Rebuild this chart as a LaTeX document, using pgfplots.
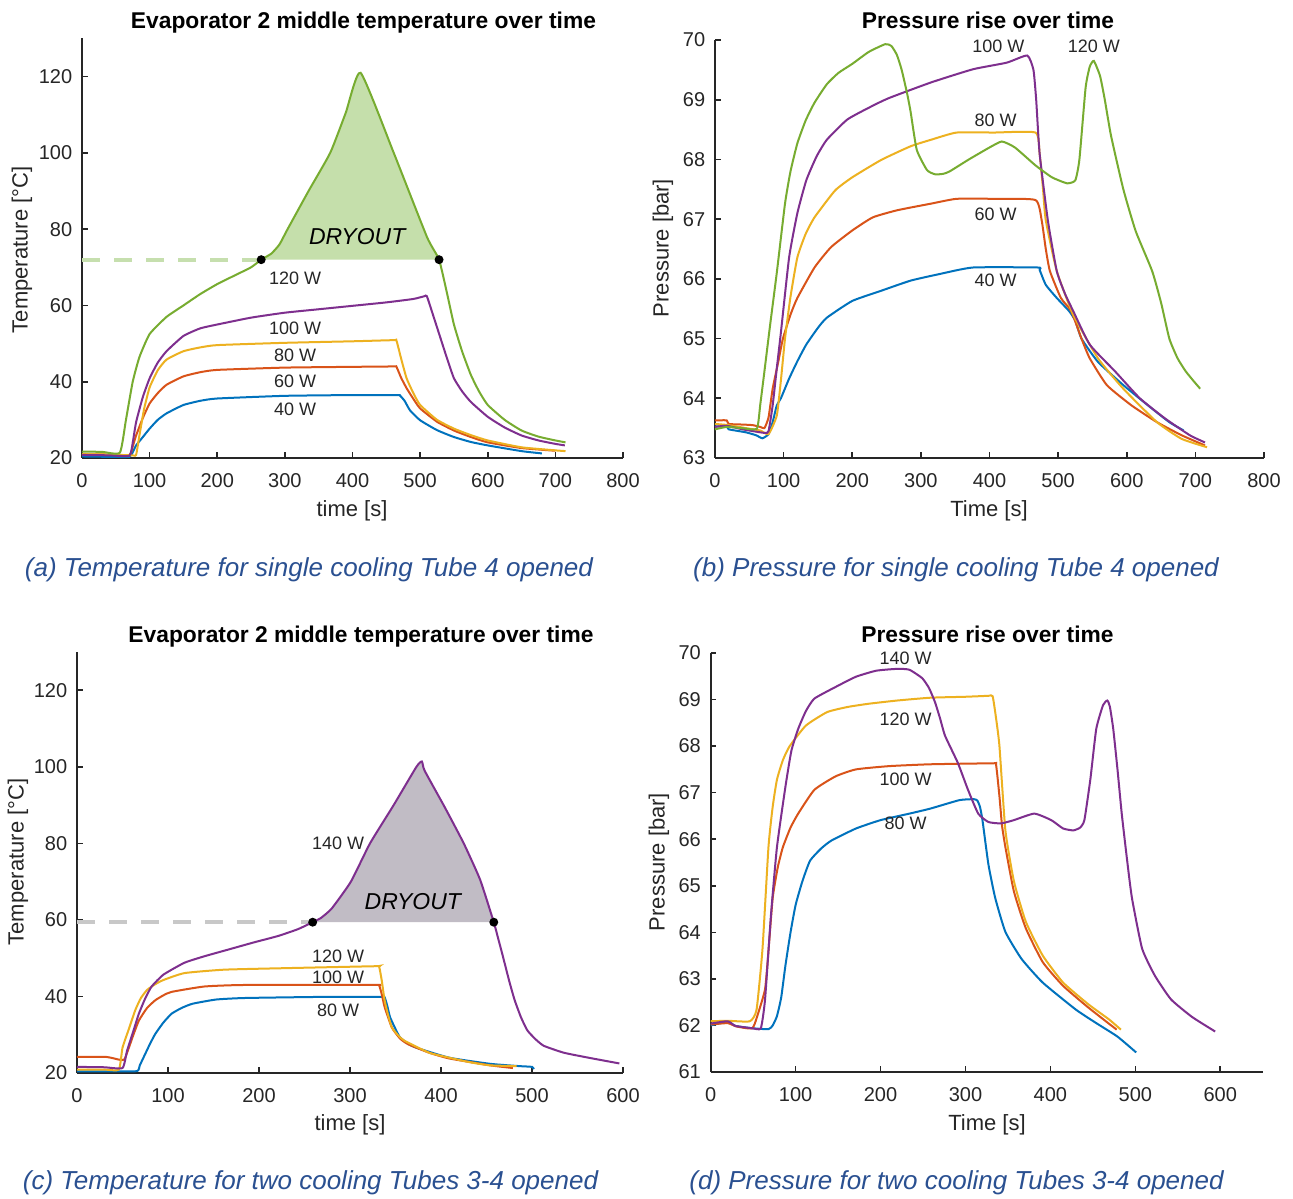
\documentclass[border=0pt]{standalone}
\usepackage{pgfplots}
\pgfplotsset{compat=1.18}
\usepackage{fontspec}
\setmainfont{Liberation Sans}
\definecolor{mblue}{HTML}{0072BD}
\definecolor{mred}{HTML}{D95319}
\definecolor{myellow}{HTML}{EDB120}
\definecolor{mpurple}{HTML}{7E2F8E}
\definecolor{mgreen}{HTML}{77AC30}
\definecolor{gfill}{HTML}{C5DFAB}
\definecolor{pfill}{HTML}{C1BCC5}
\definecolor{gdash}{HTML}{C6DFAE}
\definecolor{pdash}{HTML}{C8C8C8}
\definecolor{axcol}{HTML}{262626}
\definecolor{capcol}{HTML}{2A5091}
\pgfplotsset{
  mstyle/.style={
    scale only axis, anchor=south west, clip=false,
    axis x line*=bottom, axis y line*=left,
    axis line style={-, draw=axcol, line width=0.8pt},
    tick align=inside, major tick length=2.8pt,
    tick style={draw=axcol, line width=0.8pt},
    ticklabel style={font=\fontsize{10}{12}\selectfont, text=axcol},
    xticklabel style={yshift=-4pt},
    yticklabel style={xshift=-1.4pt},
    /pgf/number format/assume math mode=true,
    every axis plot/.append style={line width=1pt, smooth, tension=0.3},
  },
}
\tikzset{
  wlab/.style={font=\fontsize{9}{10}\selectfont, text=axcol},
  dry/.style={font=\fontsize{11.5}{13}\selectfont\itshape, text=black},
}
\newcommand{\ttl}[1]{\fontsize{11.4}{13}\selectfont\bfseries #1}
\begin{document}
\begin{tikzpicture}
\useasboundingbox (0,0) rectangle (646.5pt,599pt);
\fill[white] (0,0) rectangle (646.5pt,599pt);

% ---------------- (a) ----------------
\begin{axis}[mstyle, at={(41pt,370pt)}, width=270.5pt, height=209.75pt,
  xmin=0, xmax=800, ymin=20, ymax=130,
  xtick={0,100,...,800}, ytick={20,40,...,120}]
\addplot[fill=gfill, draw=none] coordinates {(265,72)(280,73.6)(292,76)(304,80)(335,90)(367,100)(390,110.5)(412,121)(461,100)(510,78)(528,72)};
\addplot[gdash, line width=2pt, dash pattern=on 9pt off 7pt, sharp plot] coordinates {(0,72)(265,72)};
\addplot[mblue] coordinates {(0,20.4)(40,20.3)(70,20.3)(75,21.5)(80,23.3)(90,25.5)(100,27.7)(112,30)(125,31.7)(150,33.9)(175,35)(200,35.6)(300,36.3)(400,36.5)(466,36.5)(470,36.4)(477,35)(485,32.5)(500,29.9)(525,27.3)(550,25.5)(575,24.2)(600,23.3)(650,21.8)(680,21.2)};
\addplot[mred] coordinates {(0,21)(40,20.9)(70,20.8)(75,23)(80,25.9)(90,30.5)(100,34.3)(112,37)(125,39.2)(150,41.4)(175,42.5)(200,43.1)(300,43.7)(400,43.9)(461,44)(465,43.9)(472,41)(480,38.3)(490,35.5)(500,33)(525,29.5)(550,27.2)(575,25.5)(600,24.1)(650,22.6)(700,21.9)};
\addplot[myellow] coordinates {(0,21)(40,20.9)(75,20.7)(80,20.8)(85,26)(92,33)(100,38.5)(112,43)(125,45.8)(150,48)(175,49)(200,49.6)(300,50.2)(400,50.6)(461,50.9)(465,50.8)(472,46)(480,40.9)(490,37)(500,33.9)(525,30)(550,27.7)(575,26)(600,24.6)(650,22.8)(700,22)(715,21.8)};
\addplot[mpurple] coordinates {(0,20.8)(40,20.7)(70,20.6)(75,24)(80,29.4)(90,36)(100,40.9)(112,45)(125,48)(150,52)(175,54)(200,55)(250,56.8)(300,58.1)(350,59)(400,59.9)(450,60.8)(490,61.7)(506,62.4)(510,62.4)(520,57)(530,51.5)(540,46)(550,40.9)(562,37.5)(575,34.7)(600,30.8)(625,28)(650,25.9)(675,24.6)(700,23.7)(714,23.3)};
\addplot[mgreen] coordinates {(0,21.7)(30,21.6)(56,21.4)(65,30)(75,40)(85,46.5)(100,52.5)(125,57)(150,60)(175,63)(200,65.6)(225,67.8)(250,70)(265,72)(280,73.6)(292,76)(304,80)(335,90)(367,100)(390,110.5)(412,121)(461,100)(510,78)(528,72)(540,63)(550,55)(562,48)(575,41.8)(587,37.5)(600,33.9)(625,30)(650,27.2)(675,25.6)(700,24.6)(715,24.1)};
\addplot[only marks, mark=*, mark size=1.7pt, black] coordinates {(265,72)(528,72)};
\node[wlab] at (axis cs:315,67) {120 W};
\node[wlab] at (axis cs:315,54.1) {100 W};
\node[wlab] at (axis cs:315,47) {80 W};
\node[wlab] at (axis cs:315,40) {60 W};
\node[wlab] at (axis cs:315,32.7) {40 W};
\node[dry] at (axis cs:407,78.1) {DRYOUT};
\end{axis}

% ---------------- (b) ----------------
\begin{axis}[mstyle, at={(357.5pt,370pt)}, width=274.5pt, height=209pt,
  xmin=0, xmax=800, ymin=63, ymax=70,
  xtick={0,100,...,800}, ytick={63,64,...,70}]
\addplot[mblue] coordinates {(0,63.53)(17,63.53)(20,63.48)(45,63.43)(60,63.38)(69,63.33)(78,63.4)(84,63.6)(90,63.88)(96,64.0)(108,64.33)(120,64.62)(133,64.9)(150,65.18)(163,65.35)(200,65.63)(242,65.8)(285,65.97)(327,66.08)(376,66.19)(470,66.19)(473,66.15)(482,65.9)(498,65.68)(516,65.46)(525,65.3)(534,65.0)(558,64.61)(595,64.22)(631,63.88)(662,63.6)(683,63.46)};
\addplot[mred] coordinates {(0,63.63)(17,63.63)(20,63.57)(40,63.56)(55,63.55)(66,63.52)(72,63.5)(78,63.68)(84,64.16)(92,64.6)(99,65.0)(110,65.4)(120,65.68)(145,66.19)(169,66.53)(200,66.81)(230,67.03)(266,67.15)(315,67.26)(352,67.34)(406,67.34)(467,67.32)(476,66.98)(482,66.5)(488,66.13)(504,65.68)(519,65.46)(534,65.0)(546,64.67)(571,64.22)(607,63.88)(644,63.6)(680,63.38)(714,63.21)};
\addplot[myellow] coordinates {(0,63.57)(20,63.55)(45,63.5)(66,63.46)(78,63.4)(90,63.71)(96,64.3)(102,65.0)(110,65.7)(120,66.36)(132,66.75)(145,67.03)(175,67.48)(200,67.7)(242,67.99)(285,68.22)(315,68.33)(352,68.45)(406,68.45)(467,68.45)(473,68.1)(478,67.5)(482,66.98)(498,66.13)(522,65.4)(558,64.67)(595,64.16)(644,63.6)(680,63.32)(717,63.18)};
\addplot[mpurple] coordinates {(0,63.52)(17,63.54)(40,63.48)(72,63.42)(78,63.45)(84,63.88)(90,64.5)(96,65.1)(108,66.36)(120,67.1)(133,67.65)(148,68.05)(163,68.33)(193,68.67)(230,68.9)(254,69.03)(315,69.29)(376,69.51)(425,69.62)(455,69.74)(464,69.5)(468,69.0)(473,68.1)(485,66.98)(498,66.13)(510,65.75)(522,65.46)(546,64.9)(583,64.45)(619,64.0)(656,63.66)(692,63.38)(714,63.26)};
\addplot[mgreen] coordinates {(0,63.48)(17,63.52)(40,63.5)(61,63.49)(66,63.9)(72,64.45)(80,65.2)(90,66.1)(102,67.26)(110,67.8)(120,68.27)(132,68.65)(145,68.95)(163,69.26)(180,69.45)(200,69.6)(224,69.8)(248,69.93)(257,69.9)(265,69.75)(272,69.5)(280,69.1)(285,68.8)(294,68.16)(309,67.82)(321,67.75)(333,67.76)(342,67.8)(370,68.0)(400,68.2)(418,68.3)(437,68.2)(467,67.9)(491,67.7)(513,67.6)(525,67.65)(531,68.0)(540,69.2)(546,69.55)(552,69.65)(561,69.4)(568,69.0)(577,68.4)(595,67.5)(613,66.8)(637,66.13)(650,65.6)(662,65.0)(674,64.67)(686,64.45)(698,64.28)(707,64.16)};
\node[wlab] at (axis cs:413,69.9) {100 W};
\node[wlab] at (axis cs:552,69.9) {120 W};
\node[wlab] at (axis cs:409,68.65) {80 W};
\node[wlab] at (axis cs:409,67.08) {60 W};
\node[wlab] at (axis cs:409,65.98) {40 W};
\end{axis}

% ---------------- (c) ----------------
\begin{axis}[mstyle, at={(38.5pt,62.5pt)}, width=273pt, height=210.5pt,
  xmin=0, xmax=600, ymin=20, ymax=130,
  xtick={0,100,...,600}, ytick={20,40,...,120}]
\addplot[fill=pfill, draw=none] coordinates {(259,59.4)(268,60.5)(280,63)(301,70)(322,80)(348,90)(373,100)(379,101.4)(382,99)(404,89.5)(425,80)(443,70.5)(458,59.4)};
\addplot[pdash, line width=2pt, dash pattern=on 9pt off 7pt, sharp plot] coordinates {(0,59.4)(259,59.4)};
\addplot[mblue] coordinates {(0,20.4)(40,20.4)(66,20.5)(69,22)(73,24)(80,27.5)(86,30.2)(95,33.2)(104,35.5)(115,37)(127,38.1)(153,39.2)(185,39.6)(275,39.9)(334,39.9)(338,39.8)(341,37.5)(344,34.6)(350,31.5)(355,29.3)(364,27.6)(373,26.6)(409,24)(454,22.4)(486,21.8)(500,21.6)(502,21)};
\addplot[mred] coordinates {(0,24.2)(32,24.2)(46,23.5)(52,23.5)(57,26.6)(62,30)(68,33.7)(77,37)(86,39)(95,40.3)(104,41.2)(140,42.6)(185,43)(328,43)(332,42.9)(335,40.5)(338,37.3)(346,31.9)(355,29)(364,27.5)(387,25.3)(409,23.8)(454,22)(479,21.3)};
\addplot[myellow] coordinates {(0,20.9)(30,20.9)(46,20.9)(50,26.6)(57,31.5)(64,36.4)(70,39.5)(77,41.7)(86,43.2)(95,44.3)(118,46.1)(162,47)(230,47.4)(328,47.9)(332,47.8)(335,44)(338,39)(342,35)(346,31.9)(353,29.8)(360,28.4)(387,25.3)(409,24)(432,22.8)(454,22)(483,21.8)};
\addplot[mpurple] coordinates {(0,21.6)(30,21.5)(50,21.3)(55,25.8)(62,31)(68,35.5)(75,39.5)(82,42.6)(95,45.7)(118,48.8)(140,50.5)(167,52.3)(194,54.1)(221,55.8)(243,57.6)(259,59.4)(268,60.5)(280,63)(301,70)(322,80)(348,90)(373,100)(379,101.4)(382,99)(404,89.5)(425,80)(443,70.5)(458,59.4)(463,55)(468,50.5)(475,44)(481,39)(488,34.5)(495,31.1)(504,28.8)(513,27.1)(535,25.3)(562,24)(596,22.5)};
\addplot[only marks, mark=*, mark size=1.7pt, black] coordinates {(259,59.4)(458,59.4)};
\node[wlab] at (axis cs:287,79.9) {140 W};
\node[dry] at (axis cs:369,64.7) {DRYOUT};
\node[wlab] at (axis cs:287,50.5) {120 W};
\node[wlab] at (axis cs:287,45) {100 W};
\node[wlab] at (axis cs:287,36.4) {80 W};
\end{axis}

% ---------------- (d) ----------------
\begin{axis}[mstyle, at={(355.35pt,63pt)}, width=276pt, height=209.5pt,
  xmin=0, xmax=650, ymin=61, ymax=70,
  xtick={0,100,...,600}, ytick={61,62,...,70}]
\addplot[mblue] coordinates {(0,62.0)(20,62.08)(29,61.99)(49,61.94)(68,61.92)(73,62.0)(78,62.2)(83,62.6)(88,63.29)(94,64.0)(100,64.59)(108,65.1)(117,65.54)(130,65.8)(142,65.97)(171,66.23)(200,66.41)(234,66.55)(259,66.66)(293,66.84)(310,66.86)(314,66.83)(317,66.7)(320,66.41)(327,65.46)(335,64.74)(347,64.01)(366,63.43)(391,62.92)(430,62.34)(454,62.05)(479,61.76)(501,61.42)};
\addplot[mred] coordinates {(0,62.02)(20,62.05)(30,61.98)(49,61.94)(56,62.27)(64,62.78)(68,63.6)(73,64.74)(79,65.4)(85,65.83)(94,66.25)(103,66.55)(122,67.06)(147,67.35)(171,67.5)(210,67.57)(259,67.61)(332,67.63)(336,67.6)(340,66.92)(343,66.3)(347,65.83)(357,64.88)(371,64.09)(391,63.36)(415,62.85)(445,62.38)(478,61.91)};
\addplot[myellow] coordinates {(0,62.09)(20,62.1)(46,62.09)(54,62.34)(61,63.65)(68,65.83)(73,66.7)(78,67.28)(85,67.7)(93,68.0)(112,68.44)(137,68.73)(161,68.84)(186,68.91)(220,68.98)(259,69.04)(300,69.06)(327,69.08)(332,69.07)(336,68.6)(340,68.0)(347,66.19)(357,65.1)(371,64.23)(391,63.5)(415,62.92)(445,62.45)(469,62.13)(483,61.91)};
\addplot[mpurple] coordinates {(0,62.04)(20,62.09)(29,61.99)(49,61.94)(59,61.94)(64,62.56)(71,64.38)(78,65.83)(88,67.13)(95,67.9)(103,68.37)(112,68.75)(122,69.02)(147,69.27)(171,69.49)(195,69.62)(220,69.66)(234,69.64)(249,69.46)(257,69.25)(264,68.95)(270,68.6)(276,68.22)(291,67.64)(303,67.06)(315,66.55)(327,66.37)(342,66.34)(357,66.41)(381,66.55)(401,66.41)(415,66.23)(427,66.19)(435,66.25)(440,66.41)(447,67.28)(454,68.37)(462,68.88)(467,68.98)(470,68.85)(474,68.37)(479,67.5)(484,66.55)(490,65.6)(496,64.74)(508,63.65)(523,63.07)(542,62.56)(567,62.18)(594,61.87)};
\node[wlab] at (axis cs:229.6,69.89) {140 W};
\node[wlab] at (axis cs:229.6,68.58) {120 W};
\node[wlab] at (axis cs:229.6,67.28) {100 W};
\node[wlab] at (axis cs:229.6,66.35) {80 W};
\end{axis}

% titles
\node at (181.75pt,587.5pt) {\ttl{Evaporator 2 middle temperature over time}};
\node at (494pt,589pt) {\ttl{Pressure rise over time}};
\node at (180.5pt,280.5pt) {\ttl{Evaporator 2 middle temperature over time}};
\node at (493.75pt,282pt) {\ttl{Pressure rise over time}};
% axis labels
\begin{scope}[every node/.style={font=\fontsize{11}{13}\selectfont, text=axcol}]
\node at (176pt,343.5pt) {time [s]};
\node at (494.5pt,343.5pt) {Time [s]};
\node at (175pt,36.5pt) {time [s]};
\node at (493.5pt,36.5pt) {Time [s]};
\node[rotate=90] at (11pt,474pt) {Temperature [°C]};
\node[rotate=90] at (331.5pt,475pt) {Pressure [bar]};
\node[rotate=90] at (9pt,168pt) {Temperature [°C]};
\node[rotate=90] at (329.5pt,168pt) {Pressure [bar]};
\end{scope}
% captions
\begin{scope}[every node/.style={font=\fontsize{13}{15}\selectfont\itshape, text=capcol}]
\node at (154.5pt,314pt) {(a) Temperature for single cooling Tube 4 opened};
\node at (478pt,314pt) {(b) Pressure for single cooling Tube 4 opened};
\node at (155.25pt,7.8pt) {(c) Temperature for two cooling Tubes 3-4 opened};
\node at (478.25pt,7.8pt) {(d) Pressure for two cooling Tubes 3-4 opened};
\end{scope}
\end{tikzpicture}
\end{document}
